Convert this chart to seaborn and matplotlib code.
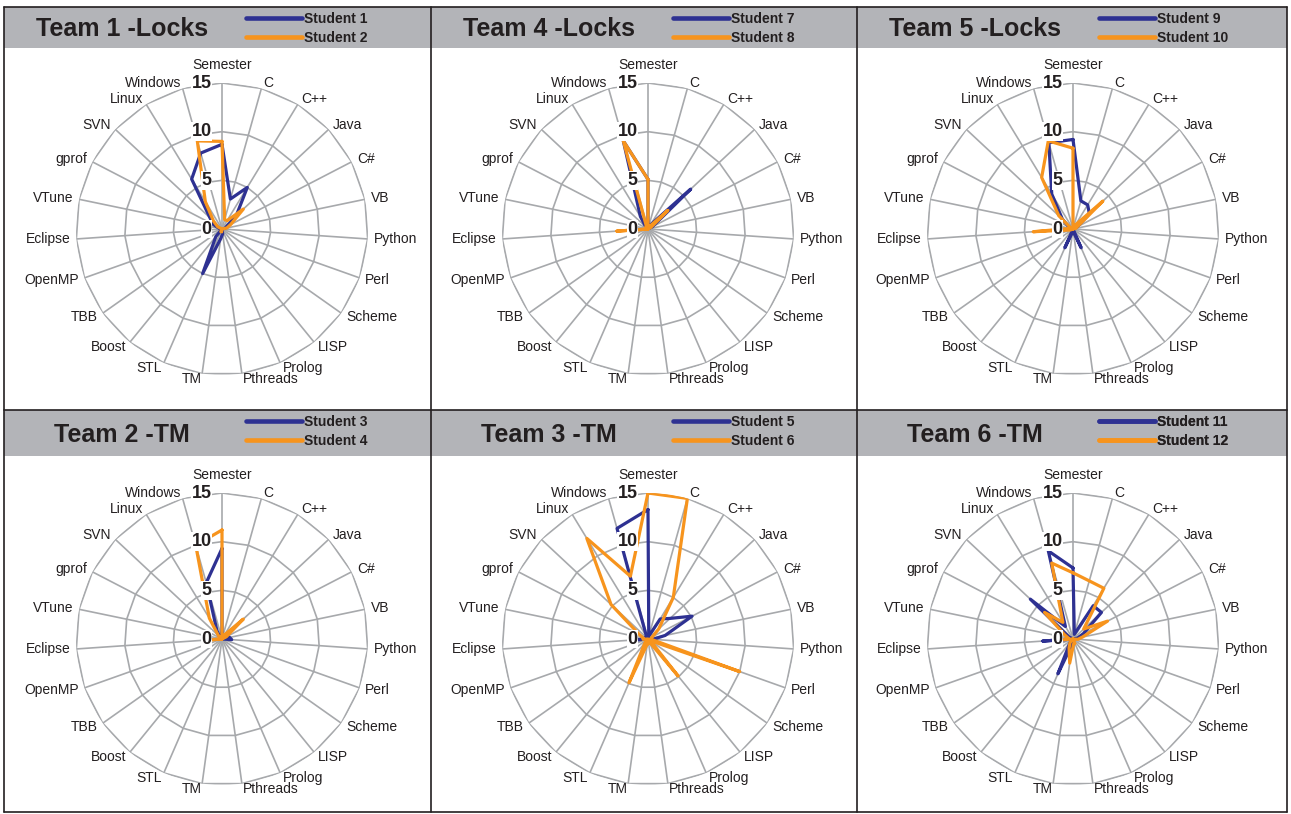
import numpy as np
import pandas as pd
import matplotlib
matplotlib.use("Agg")
import matplotlib.pyplot as plt
from matplotlib.lines import Line2D
from matplotlib.patches import Rectangle
import seaborn as sns

categories = ["Semester", "C", "C++", "Java", "C#", "VB", "Python", "Perl", "Scheme",
              "LISP", "Prolog", "Pthreads", "TM", "STL", "Boost", "TBB", "OpenMP",
              "Eclipse", "VTune", "gprof", "SVN", "Linux", "Windows"]

team_titles = ["Team 1 -Locks", "Team 4 -Locks", "Team 5 -Locks",
               "Team 2 -TM", "Team 3 -TM", "Team 6 -TM"]
student_pairs = [("Student 1", "Student 2"), ("Student 7", "Student 8"),
                 ("Student 9", "Student 10"), ("Student 3", "Student 4"),
                 ("Student 5", "Student 6"), ("Student 11", "Student 12")]

# values in category order (Semester ... Windows)
student_1 = [8.7, 3.2, 5.0, 2.0, 0.5, 0.3, 0, 0, 0, 0, 0, 0.5, 1.0, 5.0, 1.0, 0, 0, 0, 0.3, 1.0, 1.7, 6.0, 8.1]
student_2 = [9.0, 1.0, 1.0, 3.0, 1.0, 0.5, 0, 0, 0, 0, 0, 0, 0.3, 0.3, 0, 0, 0, 0, 0, 0.5, 1.2, 3.3, 9.4]
student_7 = [5.1, 0, 0.5, 6.0, 0.5, 0, 0, 0, 0, 0, 0, 0, 0, 0, 0, 0, 0, 0, 0, 0, 0.3, 1.5, 9.4]
student_8 = [5.1, 0, 0.3, 2.8, 0.3, 0, 0, 0, 0, 0, 0, 0, 0, 0, 0, 0, 0, 3.2, 0, 0, 0.3, 0.3, 9.4]
student_9 = [9.2, 3.0, 2.9, 2.3, 0.5, 0, 0, 0, 0, 0, 2.1, 0.3, 0.3, 2.1, 0, 0, 0, 0, 0, 0.5, 1.5, 4.2, 9.2]
student_10 = [8.3, 0, 0.5, 4.2, 0.5, 0.3, 0, 0, 0, 0, 0, 0, 0, 0, 0, 0, 0.3, 4.1, 0.3, 0.3, 2.0, 6.2, 9.4]
student_3 = [9.3, 0, 0, 0.5, 0.5, 0.8, 1.0, 0, 0, 0, 0, 0, 0, 0, 0, 0, 0, 0, 0, 0, 0.3, 1.0, 6.0]
student_4 = [11.2, 0, 0.5, 3.0, 0.5, 0, 0, 0, 0, 0, 0, 0, 0, 0, 0, 0, 0, 1.0, 0, 0, 0.5, 2.5, 10.0]
student_5 = [13.3, 0.3, 2.4, 3.1, 5.1, 1.8, 0.5, 0, 0, 0, 0, 0, 0, 0.5, 0, 0, 0, 1.3, 0, 0.3, 0.3, 0.3, 11.8]
student_6 = [15.0, 15.0, 5.0, 1.5, 0.5, 0.3, 0.3, 10.0, 0.3, 4.9, 0.3, 0.5, 0.5, 4.9, 0.5, 0, 0, 0.5, 0.5, 1.0, 5.2, 12.1, 6.7]
student_11 = [7.3, 0.5, 4.0, 4.0, 1.2, 0.5, 0, 0, 0, 0, 0, 0, 0.5, 3.9, 0.5, 0, 0, 3.1, 0, 0.5, 6.0, 1.5, 9.4]
student_12 = [6.8, 6.2, 6.1, 1.5, 4.0, 1.0, 0.5, 0, 0, 0, 0.5, 0.5, 2.5, 1.0, 0.5, 0, 0, 1.0, 0.5, 1.0, 4.0, 2.0, 8.1]

team_values = [(student_1, student_2), (student_7, student_8), (student_9, student_10),
               (student_3, student_4), (student_5, student_6), (student_11, student_12)]

radial_ticks = [0, 5, 10, 15]

NAVY = "#2e3192"
ORANGE = "#f7941d"
GRID = "#a7a9ac"
HEADER = "#b3b4b8"
TEXT = "#231f20"

sns.set_style("white")
plt.rcParams["font.family"] = ["Liberation Sans", "DejaVu Sans"]

W, H = 1291, 814
fig = plt.figure(figsize=(W / 100, H / 100), dpi=100)
bg = fig.add_axes([0, 0, 1, 1])
bg.set_xlim(0, W)
bg.set_ylim(H, 0)
bg.axis("off")

col_edges = [4, 431, 857, 1287]
row_edges = [7, 410, 812]
header_heights = [41, 46]
centers_x = [222, 648, 1073]
centers_y = [229, 639]
R = 146  # pixel radius of the 15 ring

n = len(categories)
theta = np.arange(n) * 2 * np.pi / n
theta_closed = np.append(theta, 2 * np.pi)

for i, title in enumerate(team_titles):
    row, col = divmod(i, 3)
    x0, x1 = col_edges[col], col_edges[col + 1]
    y0 = row_edges[row]
    hh = header_heights[row]

    # header bar
    bg.add_patch(Rectangle((x0, y0), x1 - x0, hh, fc=HEADER, ec="none", zorder=1))
    bg.text(x0 + 118, y0 + hh / 2 + 1.5, title, fontsize=18, fontweight="bold",
            color=TEXT, ha="center", va="center", zorder=3)
    handles = [Line2D([], [], color=NAVY, lw=3.3), Line2D([], [], color=ORANGE, lw=3.3)]
    leg = bg.legend(handles, student_pairs[i], loc="upper left",
                    bbox_to_anchor=(x0 + 242, y0 + 5), bbox_transform=bg.transData,
                    frameon=False, prop={"weight": "bold", "size": 10},
                    handlelength=4.0, handletextpad=0.2, labelspacing=0.36,
                    borderpad=0, borderaxespad=0)
    for t in leg.get_texts():
        t.set_color(TEXT)
    bg.add_artist(leg)

    # radar
    cx, cy = centers_x[col], centers_y[row]
    ax = fig.add_axes([(cx - R) / W, 1 - (cy + R) / H, 2 * R / W, 2 * R / H],
                      projection="polar")
    ax.set_theta_zero_location("N")
    ax.set_theta_direction(-1)
    ax.patch.set_alpha(0)

    for r in radial_ticks[1:]:
        ax.plot(theta_closed, [r] * (n + 1), color=GRID, lw=1.2, zorder=1)
    ax.vlines(theta, 0, radial_ticks[-1], color=GRID, lw=1.2, zorder=1)

    a, b = team_values[i]
    df = pd.DataFrame({
        "theta": np.concatenate([theta_closed, theta_closed]),
        "value": list(a) + [a[0]] + list(b) + [b[0]],
        "student": [student_pairs[i][0]] * (n + 1) + [student_pairs[i][1]] * (n + 1),
    })
    sns.lineplot(data=df, x="theta", y="value", hue="student", sort=False,
                 estimator=None, palette=[NAVY, ORANGE], lw=2.3, legend=False,
                 ax=ax, zorder=3)

    ax.set_ylim(0, 15)
    ax.set_xticks([])
    ax.set_yticks([])
    ax.set_xlabel("")
    ax.set_ylabel("")
    ax.grid(False)
    ax.spines["polar"].set_visible(False)

    for t, lab in zip(theta, categories):
        s, c = np.sin(t), np.cos(t)
        ha = "left" if s > 0.05 else ("right" if s < -0.05 else "center")
        va = "bottom" if c > 0.99 else "center"
        r_lab = 16.1 if c > 0.99 else 15.6
        ax.text(t, r_lab, lab, ha=ha, va=va, fontsize=10, color=TEXT, clip_on=False)

    for r in radial_ticks:
        ax.annotate(str(r), xy=(0, r), xytext=(-7.5, 0), textcoords="offset points",
                    ha="right", va="center", fontsize=13, fontweight="bold", color=TEXT,
                    bbox=dict(boxstyle="square,pad=0.05", fc="white", ec="none"),
                    annotation_clip=False, zorder=5)

# panel borders
for x in col_edges:
    bg.plot([x, x], [row_edges[0], row_edges[-1]], color=TEXT, lw=1.2, zorder=4)
for y in row_edges:
    bg.plot([col_edges[0], col_edges[-1]], [y, y], color=TEXT, lw=1.2, zorder=4)

fig.savefig("out.png", dpi=100)
